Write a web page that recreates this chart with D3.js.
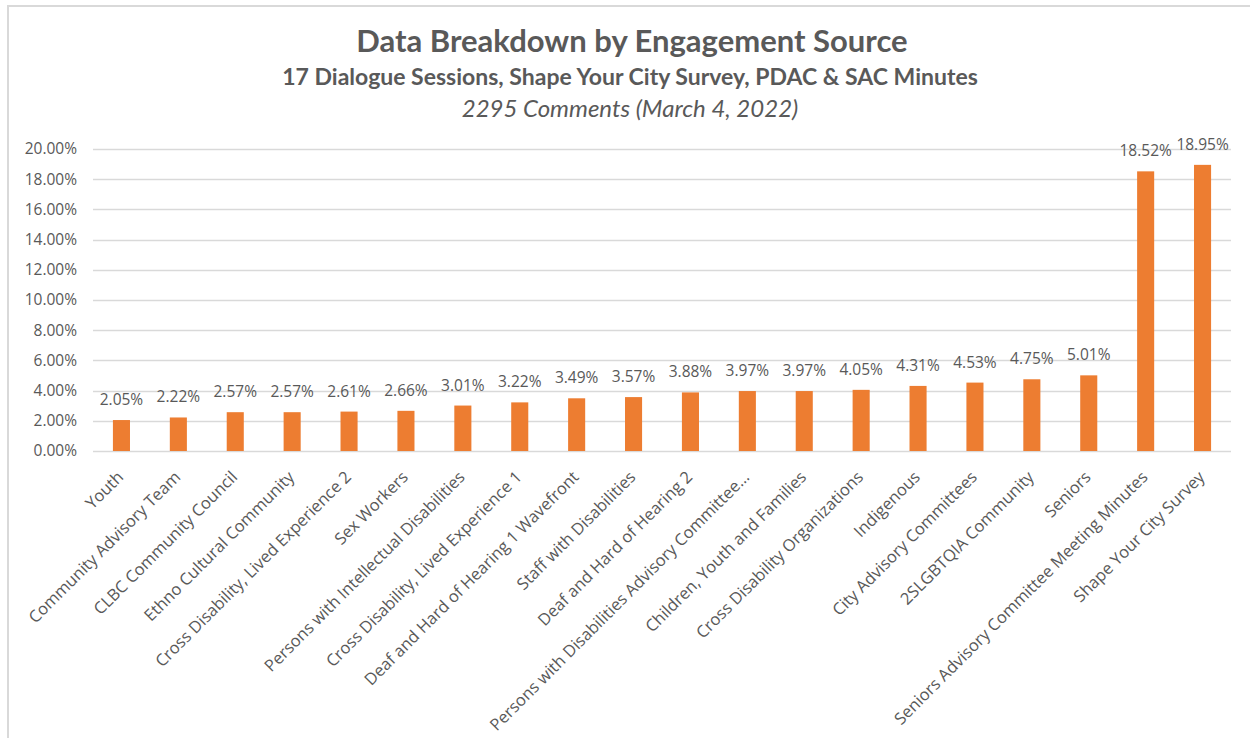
<!DOCTYPE html>
<html>
<head>
<meta charset="utf-8">
<script src="https://cdn.jsdelivr.net/npm/d3@7"></script>
<style>
  body { margin: 0; background: #fff; }
  svg text { font-family: "Open Sans", sans-serif; fill: #595959; }
  svg text.title { font-family: Lato, "Open Sans", sans-serif; }
</style>
</head>
<body>
<div id="chart"></div>
<script>
const categories = [
  'Youth', 'Community Advisory Team', 'CLBC Community Council', 'Ethno Cultural Community',
  'Cross Disability, Lived Experience 2', 'Sex Workers', 'Persons with Intellectual Disabilities',
  'Cross Disability, Lived Experience 1', 'Deaf and Hard of Hearing 1 Wavefront',
  'Staff with Disabilities', 'Deaf and Hard of Hearing 2', 'Persons with Disabilities Advisory Committee...',
  'Children, Youth and Families', 'Cross Disability Organizations', 'Indigenous',
  'City Advisory Committees', '2SLGBTQIA Community', 'Seniors',
  'Seniors Advisory Committee Meeting Minutes', 'Shape Your City Survey'
];
const shares = [2.05, 2.22, 2.57, 2.57, 2.61, 2.66, 3.01, 3.22, 3.49, 3.57,
                3.88, 3.97, 3.97, 4.05, 4.31, 4.53, 4.75, 5.01, 18.52, 18.95];
const yTicks = [0, 2, 4, 6, 8, 10, 12, 14, 16, 18, 20];

const width = 1250, height = 738;
const margin = { top: 149, right: 19, bottom: 287, left: 93 };

const svg = d3.select('#chart').append('svg')
  .attr('width', width)
  .attr('height', height);

// outer chart frame (only top/left visible in the crop)
svg.append('rect')
  .attr('x', 8).attr('y', 6)
  .attr('width', width + 20).attr('height', height + 20)
  .attr('fill', 'none')
  .attr('stroke', '#d9d9d9')
  .attr('stroke-width', 2);

// titles
svg.append('text').attr('class', 'title')
  .attr('x', 632).attr('y', 52)
  .attr('text-anchor', 'middle')
  .style('font-size', '31px').style('font-weight', 'bold')
  .text('Data Breakdown by Engagement Source');
svg.append('text').attr('class', 'title')
  .attr('x', 630).attr('y', 85)
  .attr('text-anchor', 'middle')
  .style('font-size', '23px').style('font-weight', 'bold')
  .text('17 Dialogue Sessions, Shape Your City Survey, PDAC & SAC Minutes');
svg.append('text').attr('class', 'title')
  .attr('x', 630).attr('y', 117)
  .attr('text-anchor', 'middle')
  .style('font-size', '24px').style('font-style', 'italic')
  .text('2295 Comments (March 4, 2022)');

const x = d3.scaleBand()
  .domain(categories)
  .range([margin.left, width - margin.right])
  .paddingInner(0.7)
  .paddingOuter(0.35);

const y = d3.scaleLinear()
  .domain([0, 20])
  .range([height - margin.bottom, margin.top]);

// gridlines
svg.append('g')
  .selectAll('line')
  .data(yTicks)
  .join('line')
  .attr('x1', margin.left).attr('x2', width - margin.right)
  .attr('y1', d => Math.round(y(d)) + 0.5).attr('y2', d => Math.round(y(d)) + 0.5)
  .attr('stroke', '#d9d9d9')
  .attr('stroke-width', 1.3);

// y axis labels
const yAxis = svg.append('g')
  .attr('transform', `translate(${margin.left},0)`)
  .call(d3.axisLeft(y).tickValues(yTicks).tickSize(0).tickPadding(16)
    .tickFormat(d => d.toFixed(2) + '%'));
yAxis.select('.domain').remove();
yAxis.selectAll('text').style('font-size', '15.5px').style('fill', '#595959');

// bars
svg.append('g')
  .selectAll('rect')
  .data(shares)
  .join('rect')
  .attr('x', (d, i) => x(categories[i]))
  .attr('y', d => y(d))
  .attr('width', x.bandwidth())
  .attr('height', d => y(0) - y(d))
  .attr('fill', '#ED7D31');

// value labels
svg.append('g')
  .selectAll('text')
  .data(shares)
  .join('text')
  .attr('x', (d, i) => x(categories[i]) + x.bandwidth() / 2)
  .attr('y', d => y(d) - 15)
  .attr('text-anchor', 'middle')
  .style('font-size', '15.5px')
  .text(d => d.toFixed(2) + '%');

// category labels, rotated
svg.append('g')
  .selectAll('text')
  .data(categories)
  .join('text')
  .attr('transform', d => `translate(${x(d) + x.bandwidth() / 2 - 1},${height - margin.bottom + 23}) rotate(-45)`)
  .attr('text-anchor', 'end')
  .attr('dy', '0.35em')
  .style('font-size', '16.5px')
  .text(d => d);
</script>
</body>
</html>
